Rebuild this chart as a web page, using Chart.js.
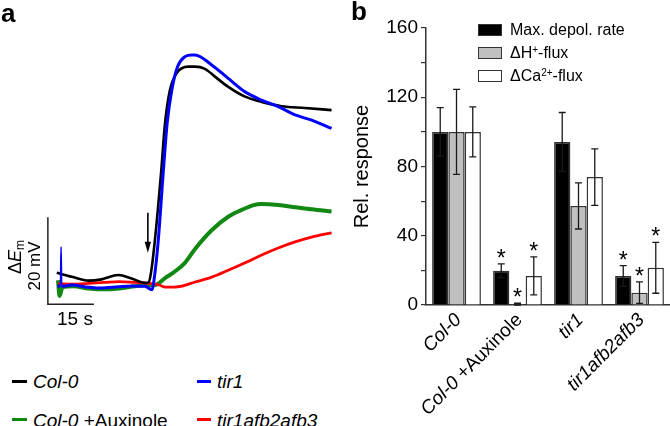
<!DOCTYPE html>
<html><head><meta charset="utf-8">
<script src="https://cdn.jsdelivr.net/npm/chart.js@4.4.1/dist/chart.umd.min.js"></script>
<style>
body{margin:0;background:#fff;}
#root{position:relative;width:670px;height:426px;overflow:hidden;font-family:"Liberation Sans",Arial,Helvetica,sans-serif;color:#000;}
.abs{position:absolute;white-space:nowrap;line-height:1;}
.rot{position:absolute;white-space:nowrap;line-height:1;transform:translate(-50%,-50%) rotate(-90deg);}
.mk{position:absolute;height:3px;}
.box{position:absolute;width:22px;height:10px;border:1.5px solid #333;}
</style></head><body>
<div id="root">
  <div class="abs" style="left:0;top:0;width:340px;height:340px"><canvas id="ca"></canvas></div>
  <div class="abs" style="left:340px;top:0;width:330px;height:426px"><canvas id="cb"></canvas></div>

  <div class="abs" style="left:1px;top:0px;font-size:26px;font-weight:bold">a</div>
  <div class="abs" style="left:351px;top:-2px;font-size:26px;font-weight:bold">b</div>

  <div class="rot" style="left:16px;top:257px;font-size:18px">Δ<i>E</i><sub style="font-size:12px;vertical-align:-3px">m</sub></div>
  <div class="rot" style="left:34px;top:266px;font-size:17px">20 mV</div>
  <div class="abs" style="left:57px;top:309px;font-size:19px">15 s</div>

  <div class="mk" style="left:12px;top:380px;width:15px;background:#000"></div>
  <div class="abs" style="left:33px;top:372px;font-size:19px"><i>Col-0</i></div>
  <div class="mk" style="left:197px;top:380px;width:14px;background:#0000ff"></div>
  <div class="abs" style="left:217px;top:372px;font-size:19px"><i>tir1</i></div>
  <div class="mk" style="left:12px;top:418px;width:15px;background:#118811"></div>
  <div class="abs" style="left:33px;top:411px;font-size:19px"><i>Col-0</i> +Auxinole</div>
  <div class="mk" style="left:197px;top:418px;width:14px;background:#ff0000"></div>
  <div class="abs" style="left:217px;top:411px;font-size:19px"><i>tir1afb2afb3</i></div>

  <div class="box" style="left:478px;top:24px;background:#000"></div>
  <div class="abs" style="left:510px;top:22px;font-size:16px">Max. depol. rate</div>
  <div class="box" style="left:478px;top:47px;background:#c0c0c0"></div>
  <div class="abs" style="left:510px;top:45px;font-size:16px">ΔH<sup style="font-size:10px;vertical-align:5px">+</sup>-flux</div>
  <div class="box" style="left:478px;top:70px;background:#fff"></div>
  <div class="abs" style="left:510px;top:68px;font-size:16px">ΔCa<sup style="font-size:10px;vertical-align:5px">2+</sup>-flux</div>
</div>
<script>
// ---------- Panel a: membrane potential traces (time in s, ΔEm in mV) ----------
const col0T = [-0.4, 4.5, 9.9, 14.2, 19.7, 24.0, 28.4, 29.5, 30.3, 31.6, 33.6, 34.9, 36.5, 38.7, 42.5, 44.7, 47.9, 51.2, 55.4, 61.0, 66.4, 72.9, 80.5, 89.2];
const col0V = [2.8, 1.9, 1.0, 1.3, 2.3, 1.5, 0.5, 0.6, 2.7, 10.3, 25.7, 37.2, 44.8, 48.7, 50.2, 50.2, 49.7, 47.9, 45.6, 43.3, 42.1, 41.1, 40.7, 40.2];

const tir1T = [-0.2, 0.8, 1.0, 1.2, 4.5, 9.9, 14.2, 19.7, 24.0, 28.4, 30.6, 31.6, 32.7, 34.3, 35.6, 37.1, 39.0, 41.4, 43.6, 44.7, 50.1, 55.5, 61.0, 66.4, 71.8, 77.3, 82.7, 89.2];
const tir1V = [-0.2, -0.3, 8.8, -0.3, 0.0, -0.5, -0.7, -0.4, -0.2, -0.3, -1.1, 2.7, 10.3, 25.7, 37.2, 44.8, 50.2, 52.5, 52.9, 52.9, 50.6, 47.5, 44.4, 42.5, 41.0, 39.1, 37.9, 36.0];

const auxT = [0, 0.5, 1.5, 5, 10, 15, 20, 25, 29, 31.6, 34.9, 38.1, 41.4, 44.7, 50.1, 55.5, 61.0, 63.5, 66.4, 71.8, 77.3, 82.7, 89.2];
const auxV = [1.1, -2.5, -0.5, -0.3, -0.8, -1.0, -0.8, -0.3, 0.0, 0.0, 1.6, 3.1, 5.1, 8.3, 12.6, 15.7, 17.6, 18.3, 18.6, 18.4, 17.9, 17.4, 16.9];

const tripleT = [0, 5, 10, 15, 20, 25, 29, 31, 33, 35, 40, 44.7, 50.1, 55.5, 61.0, 66.4, 71.8, 77.3, 82.7, 89.2];
const tripleV = [0.3, 0.2, 0.4, 0.6, 0.8, 0.6, 0.4, 0.3, 0.0, -0.5, -0.3, 0.7, 1.8, 3.4, 5.1, 6.9, 8.5, 9.9, 11.0, 12.0];

// scale bar: 20 mV vertical, 15 s horizontal
const scaleBarT = [-3.3, -3.3, 11.7];
const scaleBarV = [15.6, -4.4, -4.4];
// stimulus arrow (time, from, to)
const arrowT = 29.3, arrowFrom = 16.6, arrowTo = 7.4;

// ---------- Panel b: relative responses ----------
const categories = ['Col-0', 'Col-0 +Auxinole', 'tir1', 'tir1afb2afb3'];
const italicParts = ['Col-0', 'Col-0', 'tir1', 'tir1afb2afb3'];
const maxDepol = [100, 19.8, 94.2, 16.8];
const maxDepolErr = [14, 4, 17, 6];
const hFlux = [100, 0.5, 57.2, 7.1];
const hFluxErr = [24.6, 0.5, 13.3, 6.2];
const caFlux = [100, 16.8, 73.9, 21.5];
const caFluxErr = [14.4, 11, 16.3, 14.7];
const maxDepolSig = [false, true, false, true];
const hFluxSig = [false, true, false, true];
const caFluxSig = [false, true, false, true];
const yTicks = [0, 40, 80, 120, 160];

const FONT = '"Liberation Sans", Arial, Helvetica, sans-serif';
Chart.defaults.font.family = FONT;
Chart.defaults.color = '#000';

const pts = (T, V) => T.map((t, i) => ({x: t, y: V[i]}));

const arrowPlugin = {
  id: 'arrow',
  afterDatasetsDraw(chart) {
    const {ctx, scales: {x, y}} = chart;
    const px = x.getPixelForValue(arrowT);
    const y0 = y.getPixelForValue(arrowFrom);
    const y1 = y.getPixelForValue(arrowTo);
    ctx.save();
    ctx.strokeStyle = '#000'; ctx.fillStyle = '#000'; ctx.lineWidth = 1.6;
    ctx.beginPath(); ctx.moveTo(px, y0); ctx.lineTo(px, y1 - 8); ctx.stroke();
    ctx.beginPath(); ctx.moveTo(px - 3.2, y1 - 11); ctx.lineTo(px + 3.2, y1 - 11); ctx.lineTo(px, y1); ctx.closePath(); ctx.fill();
    ctx.restore();
  }
};

const lineDs = (label, T, V, color, w) => ({
  label, data: pts(T, V), borderColor: color, borderWidth: w,
  pointRadius: 0, cubicInterpolationMode: 'monotone', fill: false
});

const tir1Ds = lineDs('tir1', tir1T, tir1V, '#0000ff', 3);
tir1Ds.segment = {
  borderWidth: (c) => (c.p0.parsed.x >= 0.7 && c.p1.parsed.x <= 1.3) ? 1.6 : 3
};

new Chart(document.getElementById('ca'), {
  type: 'line',
  data: {
    datasets: [
      tir1Ds,
      lineDs('Col-0', col0T, col0V, '#000000', 2.6),
      lineDs('tir1afb2afb3', tripleT, tripleV, '#ff0000', 2.8),
      lineDs('Col-0 +Auxinole', auxT, auxV, '#118811', 4),
      {label: 'scale', data: pts(scaleBarT, scaleBarV), borderColor: '#222', borderWidth: 1.5, pointRadius: 0, tension: 0}
    ]
  },
  options: {
    animation: false, responsive: true, maintainAspectRatio: false,
    layout: {padding: 0},
    plugins: {legend: {display: false}, tooltip: {enabled: false}},
    scales: {
      x: {type: 'linear', display: false, min: -18.91, max: 91.95},
      y: {type: 'linear', display: false, min: -12.64, max: 65.52}
    }
  },
  plugins: [arrowPlugin]
});

const errs = [maxDepolErr, hFluxErr, caFluxErr];
const sigs = [maxDepolSig, hFluxSig, caFluxSig];

const barDecor = {
  id: 'barDecor',
  afterDatasetsDraw(chart) {
    const {ctx, scales: {x, y}} = chart;
    ctx.save();
    chart.data.datasets.forEach((ds, di) => {
      const meta = chart.getDatasetMeta(di);
      meta.data.forEach((bar, i) => {
        const v = ds.data[i], e = errs[di][i];
        const xp = bar.x;
        const yt = y.getPixelForValue(v + e);
        const yb = y.getPixelForValue(Math.max(0, v - e));
        ctx.strokeStyle = '#1a1a1a'; ctx.lineWidth = 1.3;
        ctx.beginPath();
        ctx.moveTo(xp, yt); ctx.lineTo(xp, yb);
        ctx.moveTo(xp - 3.5, yt); ctx.lineTo(xp + 3.5, yt);
        ctx.moveTo(xp - 3.5, yb); ctx.lineTo(xp + 3.5, yb);
        ctx.stroke();
        if (sigs[di][i]) {
          ctx.fillStyle = '#000';
          ctx.font = '23px ' + FONT;
          ctx.textAlign = 'center'; ctx.textBaseline = 'alphabetic';
          ctx.fillText('*', xp, yt + 2);
        }
      });
    });
    // category labels, rotated, with italic genotype names
    categories.forEach((c, i) => {
      const it = italicParts[i];
      const rest = c.slice(it.length);
      const px = x.getPixelForValue(i) + 2;
      const py = y.bottom + 12;
      ctx.save();
      ctx.translate(px, py);
      ctx.rotate(-Math.PI / 4);
      ctx.textBaseline = 'middle'; ctx.textAlign = 'left'; ctx.fillStyle = '#000';
      ctx.font = 'italic 19px ' + FONT;
      const w1 = ctx.measureText(it).width;
      ctx.font = '19px ' + FONT;
      const w2 = ctx.measureText(rest).width;
      ctx.font = 'italic 19px ' + FONT;
      ctx.fillText(it, -(w1 + w2), 0);
      ctx.font = '19px ' + FONT;
      ctx.fillText(rest, -w2, 0);
      ctx.restore();
    });
    ctx.restore();
  }
};

new Chart(document.getElementById('cb'), {
  type: 'bar',
  data: {
    labels: categories,
    datasets: [
      {label: 'Max. depol. rate', data: maxDepol, backgroundColor: '#000', borderColor: '#333', borderWidth: 1.5},
      {label: 'ΔH⁺-flux', data: hFlux, backgroundColor: '#c0c0c0', borderColor: '#333', borderWidth: 1.5},
      {label: 'ΔCa²⁺-flux', data: caFlux, backgroundColor: '#fff', borderColor: '#333', borderWidth: 1.5}
    ]
  },
  options: {
    animation: false, responsive: true, maintainAspectRatio: false,
    layout: {padding: {top: 28, right: 0, left: 0, bottom: 0}},
    datasets: {bar: {categoryPercentage: 0.8, barPercentage: 1.0}},
    plugins: {legend: {display: false}, tooltip: {enabled: false}},
    scales: {
      x: {
        grid: {display: false},
        border: {display: true, color: '#333', width: 1.5},
        ticks: {display: false},
        afterFit(s) { s.height = 121; }
      },
      y: {
        min: 0, max: 160,
        afterBuildTicks(s) {
          const t = [];
          for (let v = 0; v <= 160; v += 20) t.push({value: v});
          s.ticks = t;
        },
        ticks: {
          autoSkip: false, padding: 3, color: '#000', font: {size: 19},
          callback: (v) => yTicks.includes(v) ? String(v) : ''
        },
        grid: {drawOnChartArea: false, tickLength: 5, color: '#333', lineWidth: 1.2},
        border: {display: true, color: '#333', width: 1.5},
        title: {display: true, text: 'Rel. response', font: {size: 20}, color: '#000', padding: {top: 10, bottom: 0}},
        afterFit(s) { s.width = 86; }
      }
    }
  },
  plugins: [barDecor]
});
</script>
</body></html>
